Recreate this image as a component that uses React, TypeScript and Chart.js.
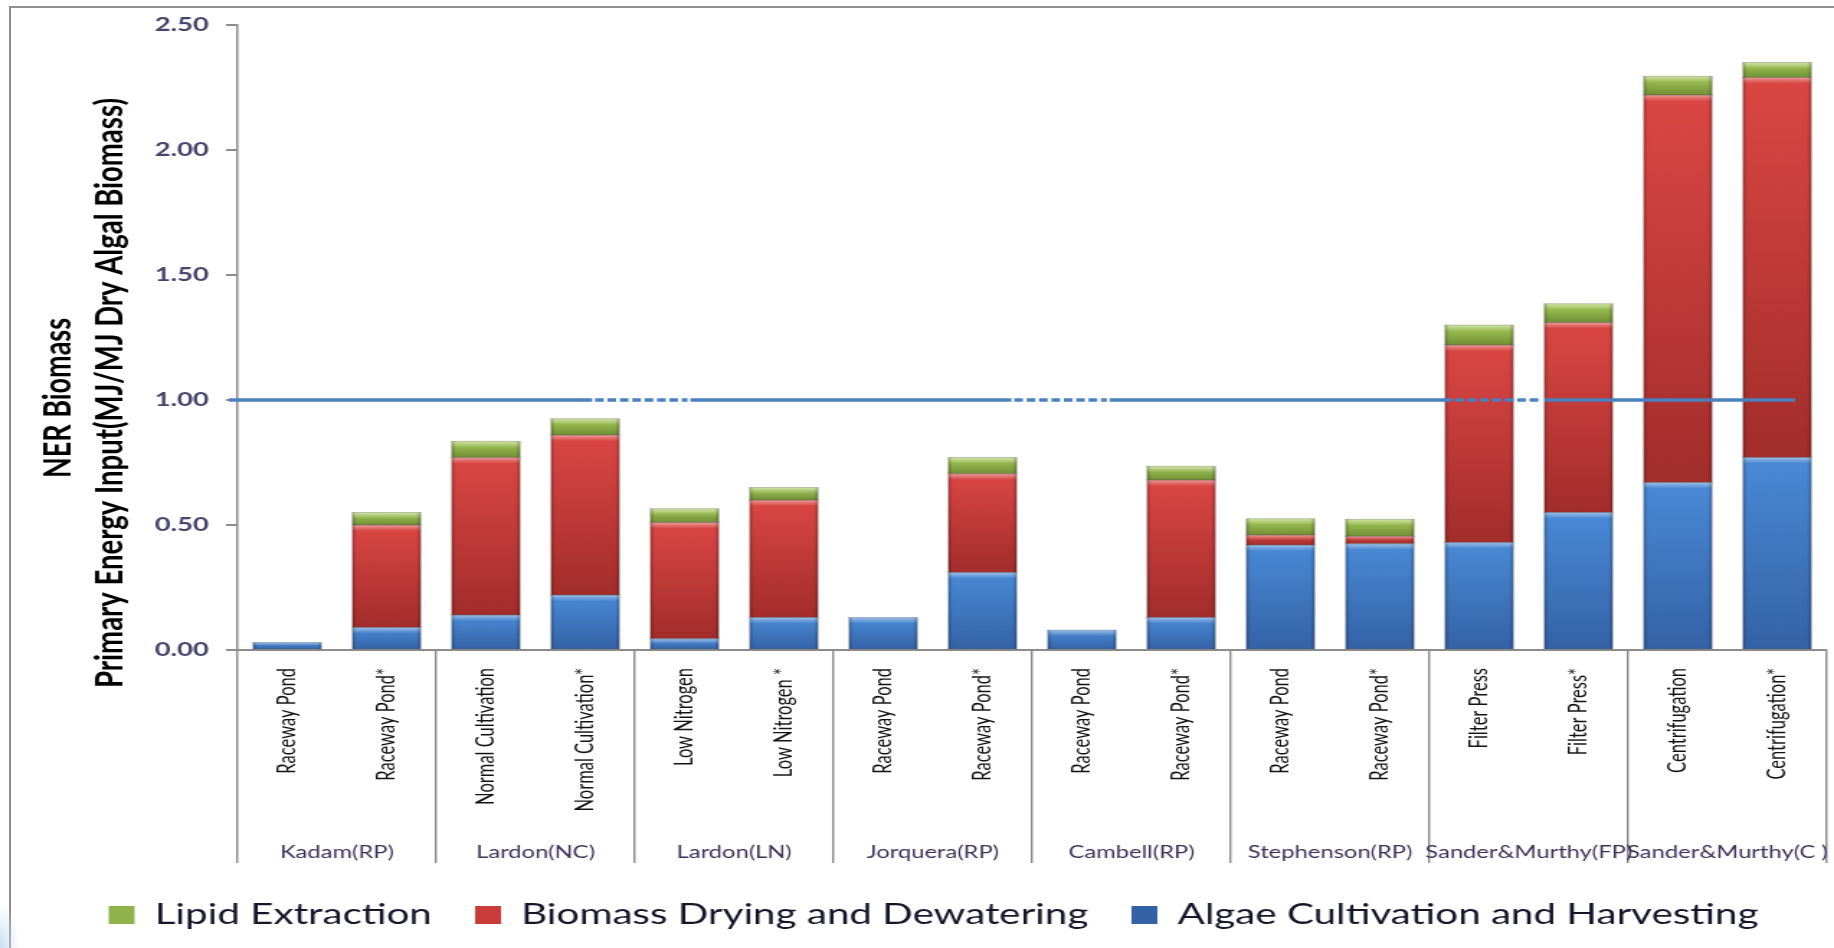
import { useEffect, useRef } from "react";
import { Chart, registerables } from "chart.js";

Chart.register(...registerables);

// Pathway labels (lower axis row) and the study each pair belongs to (upper row)
const methods = [
  "Raceway Pond", "Raceway Pond*",
  "Normal Cultivation", "Normal Cultivation*",
  "Low Nitrogen", "Low Nitrogen *",
  "Raceway Pond", "Raceway Pond*",
  "Raceway Pond", "Raceway Pond*",
  "Raceway Pond", "Raceway Pond*",
  "Filter Press", "Filter Press*",
  "Centrifugation", "Centrifugation*",
];
const studies = [
  "Kadam(RP)", "Lardon(NC)", "Lardon(LN)", "Jorquera(RP)",
  "Cambell(RP)", "Stephenson(RP)", "Sander&Murthy(FP)", "Sander&Murthy(C )",
];

// Primary energy input per stage (MJ / MJ dry algal biomass)
const cultivation = [0.03, 0.09, 0.14, 0.22, 0.045, 0.13, 0.13, 0.31, 0.08, 0.13, 0.42, 0.425, 0.43, 0.55, 0.67, 0.77];
const drying = [0, 0.41, 0.63, 0.64, 0.465, 0.47, 0, 0.395, 0, 0.55, 0.04, 0.03, 0.79, 0.76, 1.55, 1.52];
const lipid = [0, 0.05, 0.065, 0.065, 0.055, 0.05, 0, 0.065, 0, 0.055, 0.065, 0.068, 0.08, 0.075, 0.075, 0.06];

const yMax = 2.5;
const yStep = 0.5;
const nerThreshold = 1.0;
// stretches of the threshold line drawn dashed (in category index units)
const dashedStretches: [number, number][] = [[3.1, 4.03], [7.32, 8.25], [11.76, 12.63]];

const titleLines = ["NER Biomass", "Primary Energy Input(MJ/MJ Dry Algal Biomass)"];

// the picture is rendered narrow and widened horizontally
const PAGE_W = 1834;
const PAGE_H = 948;
const CANVAS_W = 1274;
const STRETCH = PAGE_W / CANVAS_W;

const series = [cultivation, drying, lipid];

type Shade = { top: string; bottom: string; flat: string };
const blueShade: Shade = { top: "#4a8ad6", bottom: "#3462a6", flat: "#3f77c2" };
const redShade: Shade = { top: "#db4743", bottom: "#a22d2b", flat: "#c83b38" };
const greenShade: Shade = { top: "#a9cc5c", bottom: "#6f8f34", flat: "#8fb24a" };

const segmentFill = (shade: Shade) => (ctx: any) => {
  if (ctx.type !== "data") return shade.flat;
  const chart = ctx.chart;
  const y = chart.scales?.y;
  if (!y) return shade.flat;
  const di = ctx.datasetIndex;
  const i = ctx.dataIndex;
  let below = 0;
  for (let k = 0; k < di; k++) below += series[k][i];
  const top = y.getPixelForValue(below + series[di][i]);
  const bottom = y.getPixelForValue(below);
  if (!isFinite(top) || !isFinite(bottom) || bottom - top < 1) return shade.flat;
  const g = chart.ctx.createLinearGradient(0, top, 0, bottom);
  g.addColorStop(0, shade.top);
  g.addColorStop(1, shade.bottom);
  return g;
};

// bevelled look on each stacked segment
const bevelPlugin = {
  id: "bevel",
  afterDatasetsDraw(chart: any) {
    const ctx = chart.ctx;
    chart.data.datasets.forEach((_: any, di: number) => {
      const meta = chart.getDatasetMeta(di);
      meta.data.forEach((bar: any) => {
        const { x, y, base, width } = bar.getProps(["x", "y", "base", "width"], true);
        const top = Math.min(y, base);
        const bottom = Math.max(y, base);
        const h = bottom - top;
        if (h < 1.5) return;
        const left = x - width / 2;
        ctx.save();
        const hl = Math.min(6, h / 2);
        let g = ctx.createLinearGradient(0, top, 0, top + hl);
        g.addColorStop(0, "rgba(255,255,255,0.45)");
        g.addColorStop(1, "rgba(255,255,255,0)");
        ctx.fillStyle = g;
        ctx.fillRect(left, top, width, hl);
        const e = Math.min(3, width / 4);
        g = ctx.createLinearGradient(left, 0, left + e, 0);
        g.addColorStop(0, "rgba(0,0,0,0.22)");
        g.addColorStop(1, "rgba(0,0,0,0)");
        ctx.fillStyle = g;
        ctx.fillRect(left, top, e, h);
        g = ctx.createLinearGradient(left + width, 0, left + width - e, 0);
        g.addColorStop(0, "rgba(0,0,0,0.22)");
        g.addColorStop(1, "rgba(0,0,0,0)");
        ctx.fillStyle = g;
        ctx.fillRect(left + width - e, top, e, h);
        ctx.strokeStyle = "rgba(90,90,90,0.35)";
        ctx.lineWidth = 0.8;
        ctx.strokeRect(left - 0.4, top, width + 0.8, h);
        ctx.restore();
      });
    });
  },
};

// horizontal NER = 1 reference line
const thresholdPlugin = {
  id: "threshold",
  afterDatasetsDraw(chart: any) {
    const { ctx, chartArea } = chart;
    const x = chart.scales.x;
    const y = chart.scales.y;
    const x0 = x.getPixelForValue(0);
    const step = x.getPixelForValue(1) - x0;
    const px = (v: number) => x0 + v * step;
    const yPix = y.getPixelForValue(nerThreshold);
    const start = chartArea.left - 6;
    const end = px(methods.length - 1) + step * 0.18;
    ctx.save();
    ctx.strokeStyle = "#4a7fc0";
    ctx.lineWidth = 3.5;
    let cursor = start;
    const stroke = (a: number, b: number, dash: number[]) => {
      ctx.setLineDash(dash);
      ctx.beginPath();
      ctx.moveTo(a, yPix);
      ctx.lineTo(b, yPix);
      ctx.stroke();
    };
    dashedStretches.forEach(([a, b]) => {
      stroke(cursor, px(a) - 2, []);
      stroke(px(a), px(b), [6, 2.6]);
      cursor = px(b) + 2;
    });
    stroke(cursor, end, []);
    ctx.restore();
  },
};

// two-line rotated value-axis title
const axisTitlePlugin = {
  id: "axisTitle",
  afterDraw(chart: any) {
    const { ctx, chartArea } = chart;
    ctx.save();
    ctx.fillStyle = "#000";
    ctx.textAlign = "center";
    ctx.textBaseline = "alphabetic";
    ctx.font = "bold 27px Lato";
    ctx.translate(48.6, chartArea.bottom - 252);
    ctx.rotate(-Math.PI / 2);
    ctx.fillText(titleLines[0], 0, 0);
    ctx.restore();
    ctx.save();
    ctx.fillStyle = "#000";
    ctx.textAlign = "center";
    ctx.textBaseline = "alphabetic";
    ctx.font = "bold 27.5px Lato";
    ctx.translate(84.8, chartArea.bottom - 257);
    ctx.rotate(-Math.PI / 2);
    ctx.fillText(titleLines[1], 0, 0);
    ctx.restore();
  },
};

const separatorColor = (ctx: any) =>
  ctx.index === undefined || ctx.index % 2 === 0 ? "#8a8a8a" : "rgba(0,0,0,0)";

export default function App() {
  const canvasRef = useRef<HTMLCanvasElement | null>(null);

  useEffect(() => {
    document.body.style.margin = "0";
    const canvas = canvasRef.current;
    if (!canvas) return;
    Chart.defaults.font.family = "Lato";
    const chart = new Chart(canvas, {
      type: "bar",
      data: {
        labels: methods,
        datasets: [
          { label: "Algae Cultivation and Harvesting", data: cultivation, backgroundColor: segmentFill(blueShade) as any, borderWidth: 0 },
          { label: "Biomass Drying and Dewatering", data: drying, backgroundColor: segmentFill(redShade) as any, borderWidth: 0 },
          { label: "Lipid Extraction", data: lipid, backgroundColor: segmentFill(greenShade) as any, borderWidth: 0 },
        ],
      },
      options: {
        responsive: false,
        animation: false,
        devicePixelRatio: 1,
        events: [],
        datasets: { bar: { categoryPercentage: 1, barPercentage: 0.685 } },
        layout: { padding: { left: 28, right: 5, top: 25, bottom: 9 } },
        scales: {
          x: {
            stacked: true,
            weight: 0,
            grid: {
              offset: true,
              drawOnChartArea: false,
              tickLength: 213,
              lineWidth: 1.4,
              color: separatorColor as any,
              tickColor: separatorColor as any,
            },
            border: { display: true, color: "#8c8c8c", width: 2 },
            ticks: {
              autoSkip: false,
              minRotation: 90,
              maxRotation: 90,
              padding: -195,
              color: "#111111",
              font: { family: "Lato", size: 16.5 },
            },
            afterFit: (s: any) => { s.height = 186; },
          },
          x2: {
            type: "category",
            labels: studies,
            position: "bottom",
            weight: 1,
            offset: true,
            grid: { display: false },
            border: { display: false },
            ticks: {
              autoSkip: false,
              minRotation: 0,
              maxRotation: 0,
              padding: -1.5,
              color: "#3b3158",
              font: { family: "Lato", size: 16.5 },
            },
            afterFit: (s: any) => { s.height = 35; },
          },
          y: {
            stacked: true,
            min: 0,
            max: yMax,
            ticks: {
              stepSize: yStep,
              padding: 12,
              color: "#45456b",
              font: { family: "Lato", weight: "bold", size: 19 },
              callback: (v: any) => Number(v).toFixed(2),
            },
            grid: { drawOnChartArea: false, tickLength: 8, color: "#8c8c8c", lineWidth: 2 },
            border: { display: true, color: "#8c8c8c", width: 1.5 },
            afterFit: (s: any) => { s.width = 137; },
          },
        },
        plugins: {
          legend: {
            position: "bottom",
            reverse: true,
            labels: {
              boxWidth: 18,
              boxHeight: 18,
              padding: 30,
              color: "#15152a",
              font: { family: "Lato", size: 28 },
            },
          },
          tooltip: { enabled: false },
        },
      },
      plugins: [bevelPlugin, thresholdPlugin, axisTitlePlugin],
    });
    return () => chart.destroy();
  }, []);

  return (
    <div style={{ position: "absolute", left: 0, top: 0, width: PAGE_W, height: PAGE_H, overflow: "hidden", background: "#ffffff" }}>
      <div
        style={{
          position: "absolute", left: 9, top: 6, right: -20, bottom: -20,
          borderLeft: "2px solid #8f8f8f", borderTop: "2px solid #8f8f8f",
        }}
      />
      <div
        style={{
          position: "absolute", left: 0, bottom: 0, width: 20, height: 45,
          background: "radial-gradient(ellipse at 0% 100%, rgba(195,220,243,0.9), rgba(195,220,243,0) 70%)",
        }}
      />
      <div
        style={{
          position: "absolute", left: 0, top: 0, width: CANVAS_W, height: PAGE_H,
          transform: `scaleX(${STRETCH})`, transformOrigin: "0 0",
        }}
      >
        <canvas ref={canvasRef} width={CANVAS_W} height={PAGE_H} style={{ width: CANVAS_W, height: PAGE_H, display: "block" }} />
      </div>
    </div>
  );
}
